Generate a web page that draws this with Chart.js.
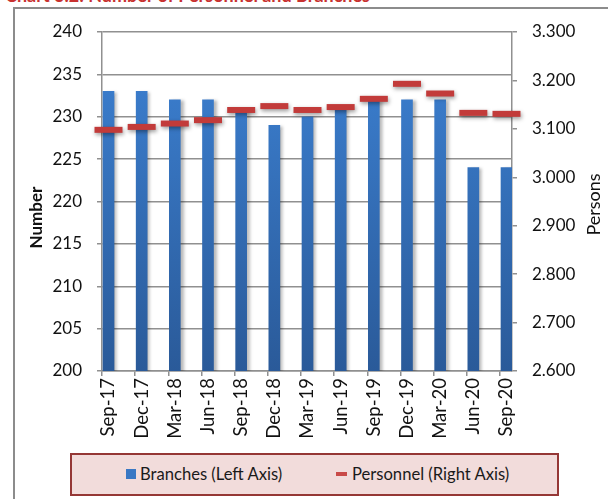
<!DOCTYPE html>
<html>
<head>
<meta charset="utf-8">
<script src="https://cdn.jsdelivr.net/npm/chart.js@4/dist/chart.umd.min.js"></script>
<style>
html,body{margin:0;padding:0;background:#fff;}
#wrap{position:relative;width:608px;height:499px;overflow:hidden;background:#fff;}
#frame{position:absolute;left:13px;top:7px;width:640px;height:540px;border-top:2px solid #8c8c8c;border-left:2px solid #8c8c8c;}
#title{position:absolute;left:5px;top:-14px;font:bold 18px Lato;line-height:18px;color:#c8312f;white-space:nowrap;}
canvas{position:absolute;left:0;top:0;}
#legend{position:absolute;left:70px;top:453px;width:489px;height:43px;box-sizing:border-box;background:#f2dcdb;border:2px solid #953735;font:16.6px Lato;color:#1a1a1a;}
#legend .sw{position:absolute;}
#legend .tx{position:absolute;top:9px;line-height:20px;white-space:nowrap;}
</style>
</head>
<body>
<div id="wrap">
  <div id="frame"></div>
  <div id="title">Chart 3.2: Number of Personnel and Branches</div>
  <canvas id="c" width="608" height="499"></canvas>
  <div id="legend">
    <div class="sw" style="left:54px;top:14px;width:10px;height:10px;background:#3a78c4;"></div>
    <div class="tx" style="left:68px;">Branches (Left Axis)</div>
    <div class="sw" style="left:264px;top:17px;width:11px;height:4px;background:#c94a48;"></div>
    <div class="tx" style="left:280px;">Personnel (Right Axis)</div>
  </div>
</div>
<script>
const categories = ['Sep-17','Dec-17','Mar-18','Jun-18','Sep-18','Dec-18','Mar-19','Jun-19','Sep-19','Dec-19','Mar-20','Jun-20','Sep-20'];
const branches = [233,233,232,232,231,229,230,231,232,232,232,224,224];
const personnel = [3098,3104,3111,3118,3139,3147,3139,3145,3162,3193,3173,3133,3131];
const leftAxis = {min:200, max:240, step:5};
const rightAxis = {min:2600, max:3300, step:100};

const X_MIN = -0.196, X_MAX = 12.166;
const FONT = 'Lato';
const GRID = '#909090';

const fmtThousands = v => (v/1000).toFixed(3);

const shadowPlugin = {
  id: 'shadow',
  beforeDatasetDraw(chart, args) {
    const ctx = chart.ctx;
    ctx.save();
    if (args.index === 0) {
      ctx.shadowColor = 'rgba(0,0,0,0.28)';
      ctx.shadowBlur = 3; ctx.shadowOffsetX = 3; ctx.shadowOffsetY = 1;
    } else {
      ctx.shadowColor = 'rgba(0,0,0,0.4)';
      ctx.shadowBlur = 4; ctx.shadowOffsetX = 1; ctx.shadowOffsetY = 2;
    }
  },
  afterDatasetDraw(chart) { chart.ctx.restore(); }
};

const axisTitles = {
  id: 'axisTitles',
  afterDraw(chart) {
    const ctx = chart.ctx;
    const mid = (chart.chartArea.top + chart.chartArea.bottom) / 2;
    ctx.save();
    ctx.fillStyle = '#111';
    ctx.textAlign = 'center';
    ctx.textBaseline = 'middle';
    ctx.translate(37, mid + 16);
    ctx.rotate(-Math.PI/2);
    ctx.font = 'bold 17px ' + FONT;
    ctx.fillText('Number', 0, 0);
    ctx.restore();
    ctx.save();
    ctx.fillStyle = '#111';
    ctx.textAlign = 'center';
    ctx.textBaseline = 'middle';
    ctx.translate(594, mid + 3);
    ctx.rotate(-Math.PI/2);
    ctx.font = '18px ' + FONT;
    ctx.fillText('Persons', 0, 0);
    ctx.restore();
  }
};

new Chart(document.getElementById('c'), {
  type: 'bar',
  data: {
    datasets: [
      {
        type: 'bar',
        label: 'Branches (Left Axis)',
        data: branches.map((v,i) => ({x:i, y:v})),
        xAxisID: 'x', yAxisID: 'y',
        barThickness: 11,
        order: 1,
        backgroundColor: (c) => {
          const {ctx, chartArea} = c.chart;
          if (!chartArea) return '#3a78c4';
          const g = ctx.createLinearGradient(0, chartArea.top, 0, chartArea.bottom);
          g.addColorStop(0, '#3d82d4');
          g.addColorStop(1, '#2a5a99');
          return g;
        }
      },
      {
        type: 'line',
        label: 'Personnel (Right Axis)',
        data: personnel.map((v,i) => ({x:i, y:v})),
        xAxisID: 'x', yAxisID: 'y1',
        showLine: false,
        order: 0,
        clip: false,
        pointStyle: 'line',
        pointRadius: 14,
        pointHoverRadius: 14,
        pointBorderWidth: 6,
        pointHoverBorderWidth: 6,
        pointBorderColor: '#c23b3a',
        pointBackgroundColor: '#c23b3a',
        borderColor: '#c23b3a'
      }
    ]
  },
  options: {
    responsive: false,
    animation: false,
    layout: {padding: {left: 20, right: 0, top: 32, bottom: 0}},
    plugins: {legend: {display: false}, tooltip: {enabled: false}},
    scales: {
      x: {
        type: 'linear',
        position: 'bottom',
        min: X_MIN, max: X_MAX,
        offset: false,
        afterBuildTicks: (s) => { s.ticks = categories.map((c,i) => ({value: i + X_MIN})); },
        afterFit: (s) => { s.height = 128; },
        grid: {display: true, drawOnChartArea: false, drawTicks: true, tickLength: 5, color: GRID, lineWidth: 1.5, offset: false},
        border: {display: true, color: GRID, width: 1.5},
        ticks: {
          autoSkip: false, maxRotation: 90, minRotation: 90, padding: 2, labelOffset: 6.5,
          color: '#111', font: {family: FONT, size: 18.5},
          callback: (v, i) => categories[i]
        }
      },
      y: {
        type: 'linear', position: 'left',
        min: leftAxis.min, max: leftAxis.max,
        afterFit: (s) => { s.width = 82; },
        grid: {color: GRID, lineWidth: 1.5, drawTicks: true, tickLength: 5},
        border: {display: true, color: GRID, width: 1.5},
        ticks: {stepSize: leftAxis.step, padding: 15, color: '#111', font: {family: FONT, size: 17}}
      },
      y1: {
        type: 'linear', position: 'right',
        min: rightAxis.min, max: rightAxis.max,
        afterFit: (s) => { s.width = 96; },
        grid: {drawOnChartArea: false, color: GRID, lineWidth: 1.5, drawTicks: true, tickLength: 5},
        border: {display: true, color: GRID, width: 1.5},
        ticks: {stepSize: rightAxis.step, padding: 15, color: '#111', font: {family: FONT, size: 17}, callback: v => fmtThousands(v)}
      }
    }
  },
  plugins: [shadowPlugin, axisTitles]
});
</script>
</body>
</html>
